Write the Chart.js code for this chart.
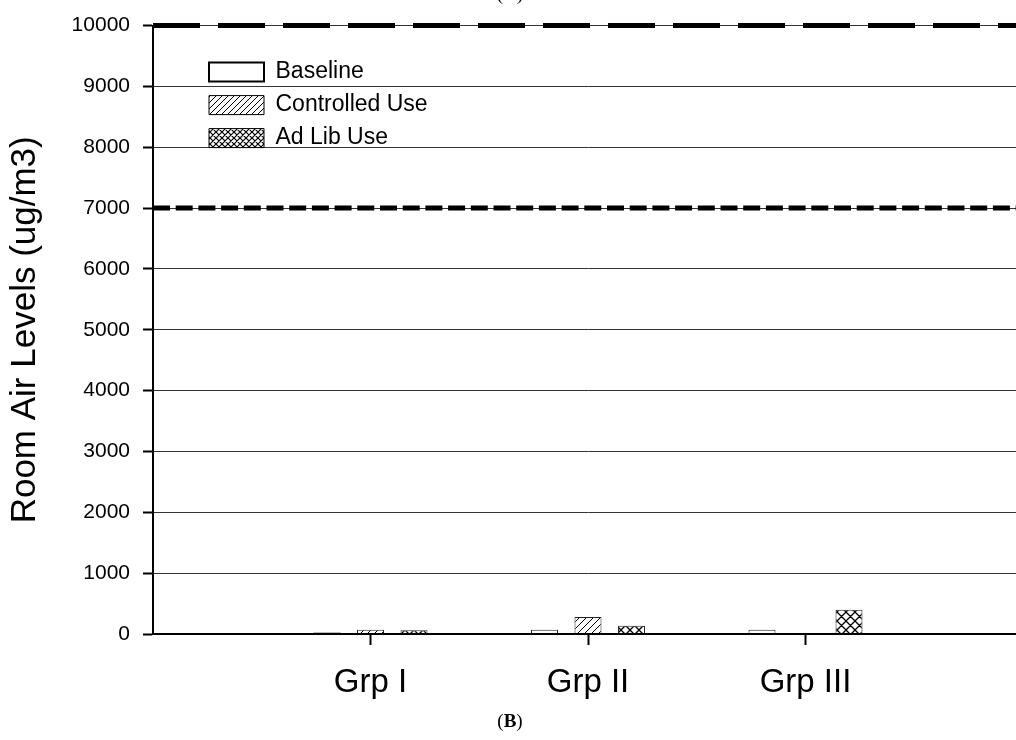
<!DOCTYPE html>
<html>
<head>
<meta charset="utf-8">
<script src="https://cdn.jsdelivr.net/npm/chart.js@4.4.0/dist/chart.umd.min.js"></script>
<style>
  html, body { margin: 0; padding: 0; background: #fff; overflow: hidden; }
  #wrap { position: relative; width: 1016px; height: 740px; overflow: hidden; }
  #chart { position: absolute; left: 0; top: 0; }
  .cap { position: absolute; left: 460px; width: 100px; text-align: center;
         font: 19px/19px "Liberation Serif", "Times New Roman", serif; color: #000; }
</style>
</head>
<body>
<div id="wrap">
  <canvas id="chart" width="1041" height="740"></canvas>
  <div class="cap" style="top:-16px">(<b>A</b>)</div>
  <div class="cap" style="top:711px">(<b>B</b>)</div>
</div>
<script>
// values (ug/m3)
const categories = ['Grp I', 'Grp II', 'Grp III'];
const seriesNames = ['Baseline', 'Controlled Use', 'Ad Lib Use'];
const baseline = [30, 70, 70];
const controlled = [70, 280, null];
const adLib = [60, 135, 400];
const limitLevels = [10000, 7000];
const yMin = 0, yMax = 10000, yStep = 1000;

// empty slots on both sides so the groups sit at 1, 2, 3 of a 0..4 axis
const labels = ['', ...categories, ''];
const pad = arr => [null, ...arr, null];
const flat = v => labels.map(() => v);

const ctx = document.getElementById('chart').getContext('2d');

function hatch(size, cross, lw) {
  const c = document.createElement('canvas');
  c.width = c.height = size;
  const g = c.getContext('2d');
  g.fillStyle = '#fff';
  g.fillRect(0, 0, size, size);
  g.strokeStyle = '#000';
  g.lineWidth = lw;
  g.beginPath();
  g.moveTo(-1, size + 1); g.lineTo(size + 1, -1);
  g.moveTo(-1, 1); g.lineTo(1, -1);
  g.moveTo(size - 1, size + 1); g.lineTo(size + 1, size - 1);
  if (cross) {
    g.moveTo(-1, -1); g.lineTo(size + 1, size + 1);
    g.moveTo(size - 1, -1); g.lineTo(size + 1, 1);
    g.moveTo(-1, size - 1); g.lineTo(1, size + 1);
  }
  g.stroke();
  return ctx.createPattern(c, 'repeat');
}

const barFills = ['#fff', hatch(7, false, 1), hatch(9, true, 1.3)];
const legendFills = ['#fff', hatch(6, false, 1), hatch(6, true, 1.2)];

const font = 'Liberation Sans, Arial, sans-serif';

// legend sits inside the plot, a bit in from the top-left corner
const legendInside = {
  id: 'legendInside',
  afterLayout(chart) {
    const lg = chart.legend, a = chart.chartArea;
    lg.left = a.left + 46;
    lg.top = a.top + 25;
    lg.right = lg.left + lg.width;
    lg.bottom = lg.top + lg.height;
  }
};

const barSets = [baseline, controlled, adLib].map((vals, i) => ({
  type: 'bar',
  label: seriesNames[i],
  data: pad(vals),
  backgroundColor: barFills[i],
  borderColor: '#222',
  borderWidth: 1,
  categoryPercentage: 0.6,
  barPercentage: 0.62
}));

const limitSets = limitLevels.map((v, i) => ({
  type: 'line',
  label: 'limit ' + v,
  data: flat(v),
  borderColor: '#000',
  borderWidth: 5,
  borderDash: i === 0 ? [47, 18] : [17, 5.7],
  borderCapStyle: 'butt',
  pointRadius: 0,
  fill: false,
  tension: 0,
  clip: 10
}));

new Chart(ctx, {
  type: 'bar',
  data: { labels, datasets: [...barSets, ...limitSets] },
  plugins: [legendInside],
  options: {
    responsive: false,
    animation: false,
    events: [],
    layout: { padding: { left: 0, top: 21, right: 0, bottom: 0 } },
    plugins: {
      tooltip: { enabled: false },
      title: { display: false },
      legend: {
        position: 'chartArea',
        align: 'start',
        labels: {
          boxWidth: 55,
          boxHeight: 19,
          padding: 10,
          color: '#000',
          font: { family: font, size: 23 },
          generateLabels(chart) {
            const items = Chart.defaults.plugins.legend.labels.generateLabels(chart);
            return items.filter(it => it.datasetIndex < 3).map((it, i) => Object.assign(it, {
              fillStyle: legendFills[i],
              strokeStyle: '#000',
              lineWidth: i === 0 ? 2 : 1
            }));
          }
        }
      }
    },
    scales: {
      x: {
        type: 'category',
        offset: false,
        afterFit(scale) { scale.height = 106; },
        grid: {
          display: true,
          offset: false,
          drawOnChartArea: false,
          drawTicks: true,
          tickLength: 11,
          tickWidth: 2,
          tickColor: c => (c.index === 0 || c.index === labels.length - 1) ? 'rgba(0,0,0,0)' : '#000'
        },
        border: { display: true, color: '#000', width: 2, z: 1 },
        ticks: {
          color: '#000',
          padding: 18,
          maxRotation: 0,
          autoSkip: false,
          font: { family: font, size: 33 }
        }
      },
      y: {
        min: yMin,
        max: yMax,
        afterFit(scale) { scale.width = 153; },
        grid: {
          color: '#333',
          lineWidth: 1,
          tickLength: 10,
          tickWidth: 2,
          tickColor: '#000'
        },
        border: { display: true, color: '#000', width: 2, z: 1 },
        ticks: {
          stepSize: yStep,
          color: '#000',
          padding: 13,
          callback: v => String(v),
          font: { family: font, size: 21 }
        },
        title: {
          display: true,
          text: 'Room Air Levels (ug/m3)',
          color: '#000',
          padding: { top: 4, bottom: 0 },
          font: { family: font, size: 35 }
        }
      }
    }
  }
});
</script>
</body>
</html>
